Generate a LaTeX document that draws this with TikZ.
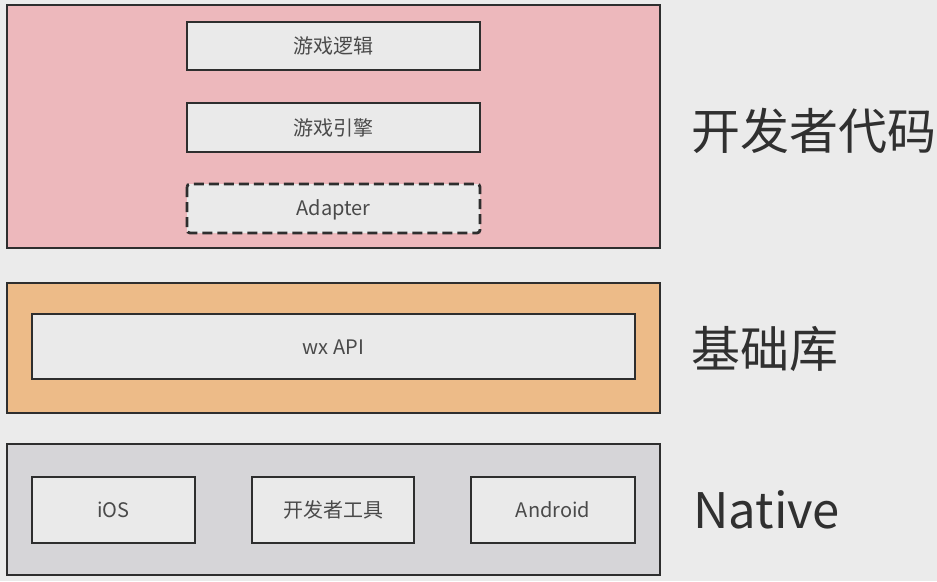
\documentclass[tikz,border=0pt]{standalone}
\usepackage{fontspec}
\setmainfont{Noto Sans CJK SC}
\definecolor{bgc}{HTML}{EBEBEB}
\definecolor{pinkc}{HTML}{EDB8BC}
\definecolor{orangec}{HTML}{EDBB88}
\definecolor{grayc}{HTML}{D6D5D8}
\definecolor{innerc}{HTML}{EAEAEA}
\definecolor{linec}{HTML}{2E2E2E}
\definecolor{txtc}{HTML}{4A4A4A}
\definecolor{sidec}{HTML}{303030}
\begin{document}
\begin{tikzpicture}[x=1pt,y=-1pt,
  layer/.style={draw=linec,line width=2.6pt},
  box/.style={draw=linec,line width=2.6pt,fill=innerc},
  dbox/.style={draw=linec,line width=2.8pt,fill=innerc,dash pattern=on 10pt off 5pt,rounded corners=3pt},
  boxtext/.style={text=txtc,font=\fontsize{20}{24}\selectfont},
  side/.style={text=sidec,font=\fontsize{49}{54}\selectfont,anchor=west,inner sep=0pt}]
\useasboundingbox (0,0) rectangle (937,581);
\fill[bgc] (0,0) rectangle (937,581);
% layers
\draw[layer,fill=pinkc] (7,5) rectangle (660,248);
\draw[layer,fill=orangec] (7,283) rectangle (660,413);
\draw[layer,fill=grayc] (7,444) rectangle (660,575);
% inner boxes
\draw[box] (187,22) rectangle (480,70);
\node[boxtext] (logic) at (333.5,46) {游戏逻辑};
\draw[box] (187,103) rectangle (480,152);
\node[boxtext] (engine) at (333.5,127.5) {游戏引擎};
\draw[dbox] (187,184) rectangle (480,233);
\node[boxtext] (adapter) at (333.5,209.5) {Adapter};
\draw[box] (32,314) rectangle (635,379);
\node[boxtext] (wxapi) at (333.5,347.5) {wx API};
\draw[box] (32,477) rectangle (195,543);
\node[boxtext] (ios) at (113.5,510) {iOS};
\draw[box] (252,477) rectangle (414,543);
\node[boxtext] (devtool) at (333,510) {开发者工具};
\draw[box] (471,477) rectangle (635,543);
\node[boxtext] (android) at (553,510) {Android};
% side labels
\node[side] (dev) at (691,131) {开发者代码};
\node[side] (base) at (691,349) {基础库};
\node[side] (native) at (693,510) {Native};
\end{tikzpicture}
\end{document}
